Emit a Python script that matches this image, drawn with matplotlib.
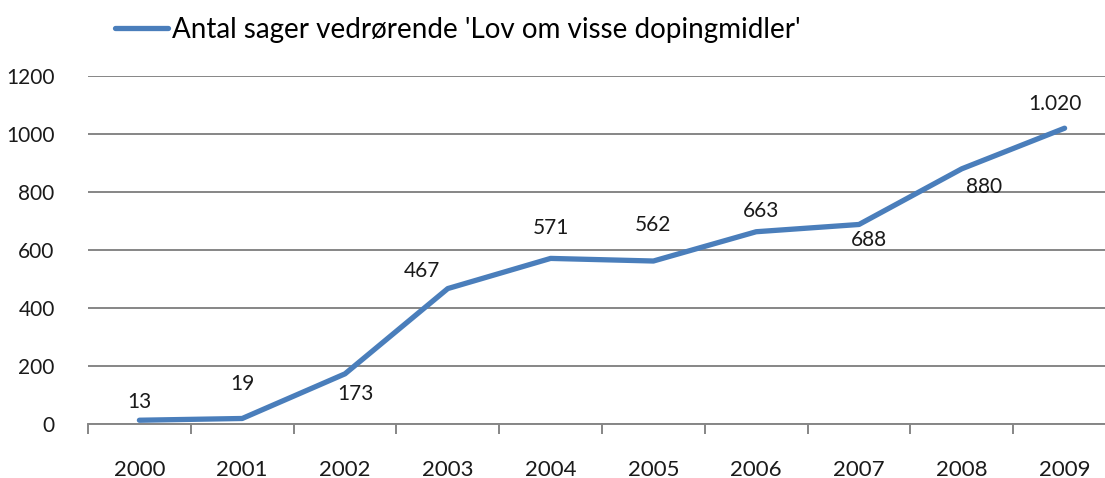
import matplotlib.pyplot as plt
from matplotlib.lines import Line2D

years = ["2000", "2001", "2002", "2003", "2004", "2005", "2006", "2007", "2008", "2009"]
cases = [13, 19, 173, 467, 571, 562, 663, 688, 880, 1020]
value_labels = ["13", "19", "173", "467", "571", "562", "663", "688", "880", "1.020"]
# label offsets in pixels (dx, dy) from each point
label_offsets = [(0, 18), (0, 34), (10, -20), (-26, 18), (0, 30), (0, 36), (5, 21), (10, -16), (22, -18), (-10, 24)]

plt.rcParams["font.family"] = ["Lato", "DejaVu Sans"]

fig = plt.figure(figsize=(11.05, 4.78), dpi=100)
ax = fig.add_axes([88 / 1105, 54 / 478, 1028 / 1105, 348 / 478])

line_color = "#4a7ebb"
grid_color = "#868686"

x = list(range(len(years)))
ax.plot(x, cases, color=line_color, lw=3.8, solid_capstyle="round", clip_on=False)

for xi, val, lab, (dx, dy) in zip(x, cases, value_labels, label_offsets):
    ax.annotate(lab, (xi, val), xytext=(dx, dy), textcoords="offset pixels",
                ha="center", va="center", fontsize=15, color="#1a1a1a")

ax.set_xlim(-0.5, len(years) - 0.5)
ax.set_ylim(0, 1200)
ax.set_yticks(range(0, 1201, 200))
ax.yaxis.grid(True, color=grid_color, lw=1.4)
ax.set_axisbelow(True)
ax.tick_params(axis="y", length=0, labelsize=15, pad=24, colors="#1a1a1a")

ax.set_xticks(x)
ax.set_xticklabels(years)
ax.set_xticks([i - 0.5 for i in range(len(years) + 1)], minor=True)
ax.tick_params(axis="x", which="major", length=0, labelsize=16, pad=26, colors="#1a1a1a")
ax.tick_params(axis="x", which="minor", length=7, width=1.4, color=grid_color)

for s in ["top", "right", "left"]:
    ax.spines[s].set_visible(False)
ax.spines["bottom"].set_color(grid_color)
ax.spines["bottom"].set_linewidth(1.4)

handle = Line2D([], [], color=line_color, lw=3.8, solid_capstyle="round")
fig.legend([handle], ["Antal sager vedrørende 'Lov om visse dopingmidler'"],
           loc="center left", bbox_to_anchor=(115 / 1105, 1 - 30 / 478),
           frameon=False, fontsize=20, handlelength=1.9, handletextpad=0.15,
           borderpad=0, borderaxespad=0)

fig.savefig("out.png", dpi=100)
